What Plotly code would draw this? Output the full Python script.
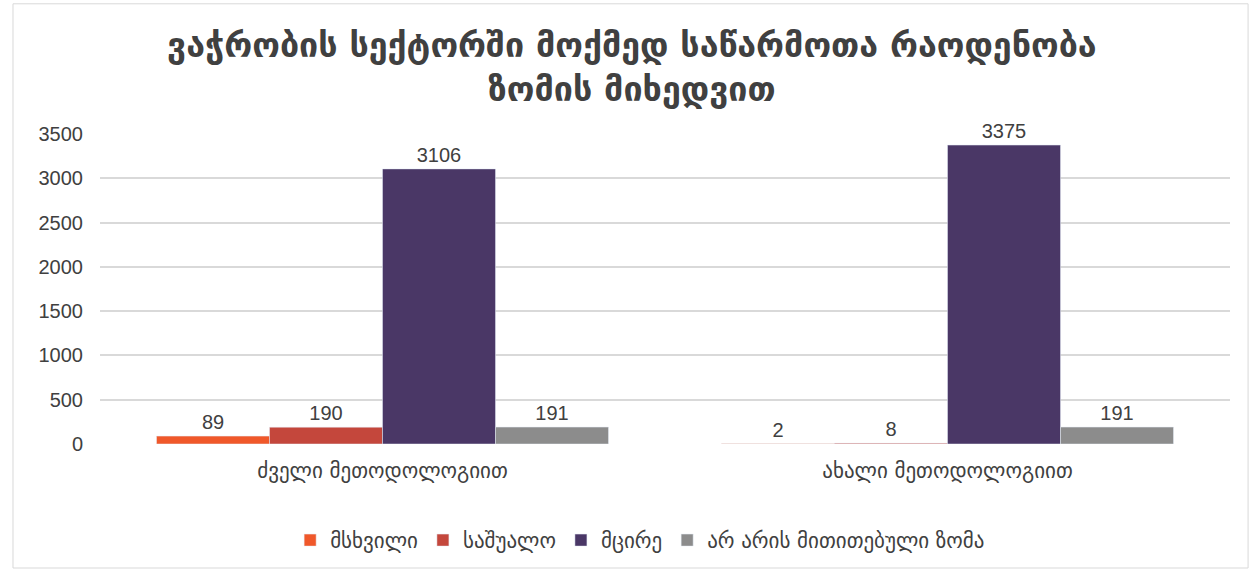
import plotly.graph_objects as go

categories = ["ძველი მეთოდოლოგიით", "ახალი მეთოდოლოგიით"]
series_names = ["მსხვილი", "საშუალო", "მცირე", "არ არის მითითებული ზომა"]
large = [89, 2]
medium = [190, 8]
small = [3106, 3375]
unspecified = [191, 191]
colors = ["#F0582A", "#C4473C", "#4A3766", "#8C8C8C"]

title_text = "<b>ვაჭრობის სექტორში მოქმედ საწარმოთა რაოდენობა<br>ზომის მიხედვით</b>"
y_ticks = [0, 500, 1000, 1500, 2000, 2500, 3000, 3500]

fig = go.Figure()
for name, vals, col in zip(series_names, [large, medium, small, unspecified], colors):
    fig.add_trace(go.Bar(
        x=categories, y=vals, name=name, marker_color=col,
        text=[str(v) for v in vals], textposition="outside",
        textfont=dict(size=20, color="#404040", family="Liberation Sans, Arial"),
        cliponaxis=False,
    ))

fig.update_layout(
    width=1252, height=570,
    paper_bgcolor="white", plot_bgcolor="white",
    margin=dict(l=100, r=22, t=134, b=126, autoexpand=False),
    barmode="group", bargap=0.2, bargroupgap=0,
    font=dict(family="DejaVu Sans", color="#404040"),
    xaxis=dict(showline=False, ticks="", tickfont=dict(size=21, color="#404040"),
               showgrid=False, ticklabelstandoff=12, automargin=False),
    yaxis=dict(range=[0, 3500], tickvals=y_ticks, showgrid=True, gridcolor="#D9D9D9",
               gridwidth=1.5, zeroline=False, ticks="", ticklen=0, ticklabelstandoff=16,
               automargin=False,
               tickfont=dict(size=20, color="#404040", family="Liberation Sans, Arial")),
    legend=dict(orientation="h", x=0.478, xanchor="center", y=-0.245, yanchor="top",
                font=dict(size=21, color="#404040"), itemwidth=30),
    annotations=[dict(text=title_text, xref="paper", yref="paper", x=0.471, y=1.215,
                      xanchor="center", yanchor="middle", showarrow=False,
                      font=dict(size=34, color="#404040", family="DejaVu Sans"))],
    shapes=[dict(type="rect", xref="paper", yref="paper", x0=-0.077, x1=1.016,
                 y0=-0.40, y1=1.42, line=dict(color="#D9D9D9", width=1))],
)

fig.write_html("out.html")
